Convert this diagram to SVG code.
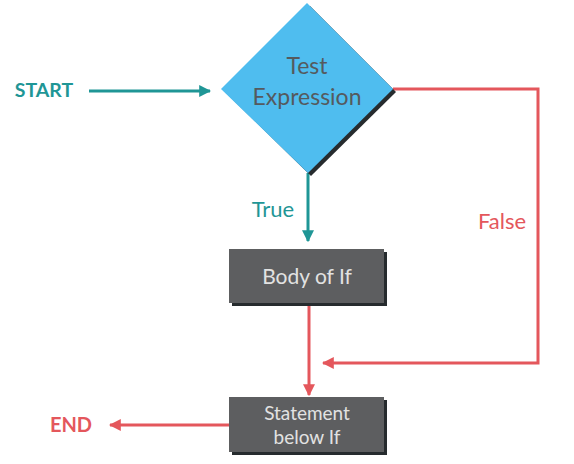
<svg xmlns="http://www.w3.org/2000/svg" width="574" height="464" viewBox="0 0 574 464">
<defs>
<style>
.t{font-family:Lato,"Noto Sans",sans-serif;text-anchor:middle}
.teal{stroke:#1f9696;fill:none;stroke-width:3}
.red{stroke:#e4575c;fill:none;stroke-width:3}
.box{fill:#5d5e60}
.shadow{fill:#262b2e}
.light{fill:#e2e2e2}
</style>
<marker id="at" viewBox="0 0 10 10" refX="9" refY="5" markerWidth="4" markerHeight="4" orient="auto" markerUnits="strokeWidth"><path d="M0,0 L10,5 L0,10 z" fill="#1f9696"/></marker>
<marker id="ar" viewBox="0 0 10 10" refX="9" refY="5" markerWidth="4" markerHeight="4" orient="auto" markerUnits="strokeWidth"><path d="M0,0 L10,5 L0,10 z" fill="#e4575c"/></marker>
</defs>
<rect width="574" height="464" fill="#ffffff"/>
<g id="connectors">
<line class="teal" x1="89" y1="91" x2="210" y2="91" marker-end="url(#at)"/>
<line class="teal" x1="308" y1="173" x2="308" y2="241" marker-end="url(#at)"/>
<polyline class="red" points="393,89 538,89 538,363 323,363" marker-end="url(#ar)"/>
<line class="red" x1="309" y1="303" x2="309" y2="395" marker-end="url(#ar)"/>
<line class="red" x1="229" y1="425" x2="110" y2="425" marker-end="url(#ar)"/>
</g>
<g id="start"><text class="t" x="44" y="97" font-size="19.5" font-weight="bold" fill="#1f9696">START</text></g>
<g id="test">
<polygon class="shadow" points="310,6 396,92 311,176 225,92"/>
<polygon points="307,3 393,89 308,173 221,89" fill="#4fbdef"/>
<text class="t" x="307" y="74" font-size="23" fill="#555a5e">Test</text>
<text class="t" x="307" y="105" font-size="23" fill="#555a5e">Expression</text>
</g>
<g id="true-label"><text class="t" x="273" y="217" font-size="22" fill="#1f9696">True</text></g>
<g id="false-label"><text class="t" x="502" y="229" font-size="22" fill="#e4575c">False</text></g>
<g id="body">
<rect class="shadow" x="232" y="252" width="155" height="54"/>
<rect class="box" x="229" y="249" width="155" height="54"/>
<text class="t light" x="307" y="284" font-size="21">Body of If</text>
</g>
<g id="statement">
<rect class="shadow" x="232" y="400" width="155" height="55"/>
<rect class="box" x="229" y="397" width="155" height="55"/>
<text class="t light" x="307" y="420" font-size="19">Statement</text>
<text class="t light" x="307" y="444" font-size="19">below If</text>
</g>
<g id="end"><text class="t" x="71" y="432" font-size="20" font-weight="bold" fill="#e4575c">END</text></g>
</svg>
